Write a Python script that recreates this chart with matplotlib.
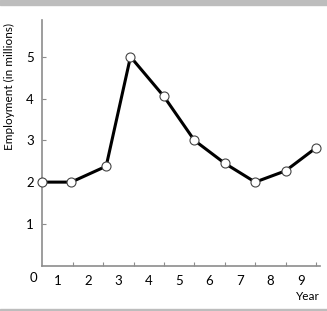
import matplotlib
matplotlib.use("Agg")
import matplotlib.pyplot as plt
import numpy as np

# values
years = [0, 0.95, 2.1, 2.9, 4, 5, 6, 7, 8, 9]
employment = [2.0, 2.0, 2.38, 5.0, 4.05, 3.0, 2.45, 2.0, 2.27, 2.82]
year_labels = ["1", "2", "3", "4", "5", "6", "7", "8", "9"]
y_ticks = [1, 2, 3, 4, 5]

GRAY = "#8c8c8c"
BAR = "#bdbdbd"

plt.rcParams['font.family'] = ['Lato', 'DejaVu Sans']

fig = plt.figure(figsize=(3.27, 3.11), dpi=100)
ax = fig.add_axes([0.1294, 0.1457, 0.849, 0.79])

ax.plot(years, employment, color="black", lw=2.2, marker="o", ms=6.5,
        mfc="white", mec="#444444", mew=0.8, clip_on=False, zorder=3)

ax.set_xlim(0, 9.13)
ax.set_ylim(0, 5.88)

for s in ["top", "right"]:
    ax.spines[s].set_visible(False)
for s in ["left", "bottom"]:
    ax.spines[s].set_color(GRAY)
    ax.spines[s].set_linewidth(1.2)

# tick marks on the integers, labels centred between them
ax.set_xticks(np.arange(1, 10))
ax.set_xticklabels([])
ax.set_xticks(np.arange(0.5, 9), minor=True)
ax.set_xticklabels(year_labels, minor=True)
ax.tick_params(axis="x", which="major", direction="in", length=3, color=GRAY)
ax.tick_params(axis="x", which="minor", length=0, pad=7, labelsize=9.5)

ax.set_yticks(y_ticks)
ax.set_yticklabels([str(v) for v in y_ticks])
ax.tick_params(axis="y", direction="in", length=3, color=GRAY, pad=6,
               labelsize=9.5)

ax.text(-0.3, -0.3, "0", ha="center", va="center", fontsize=9.5,
        transform=ax.transData, clip_on=False)

fig.text(9 / 327, 1 - 86 / 311, "Employment (in millions)", rotation=90,
         ha="center", va="center", fontsize=8.5)
fig.text(308 / 327, 1 - 296 / 311, "Year", ha="center", va="center",
         fontsize=8.5)

# gray bands top and bottom
fig.patches.append(plt.Rectangle((0, 1 - 5 / 311), 1, 5 / 311,
                                 transform=fig.transFigure, color=BAR,
                                 zorder=0))
fig.patches.append(plt.Rectangle((0, 0), 1, 2 / 311,
                                 transform=fig.transFigure, color=BAR,
                                 zorder=0))

fig.savefig("out.png", dpi=100)
